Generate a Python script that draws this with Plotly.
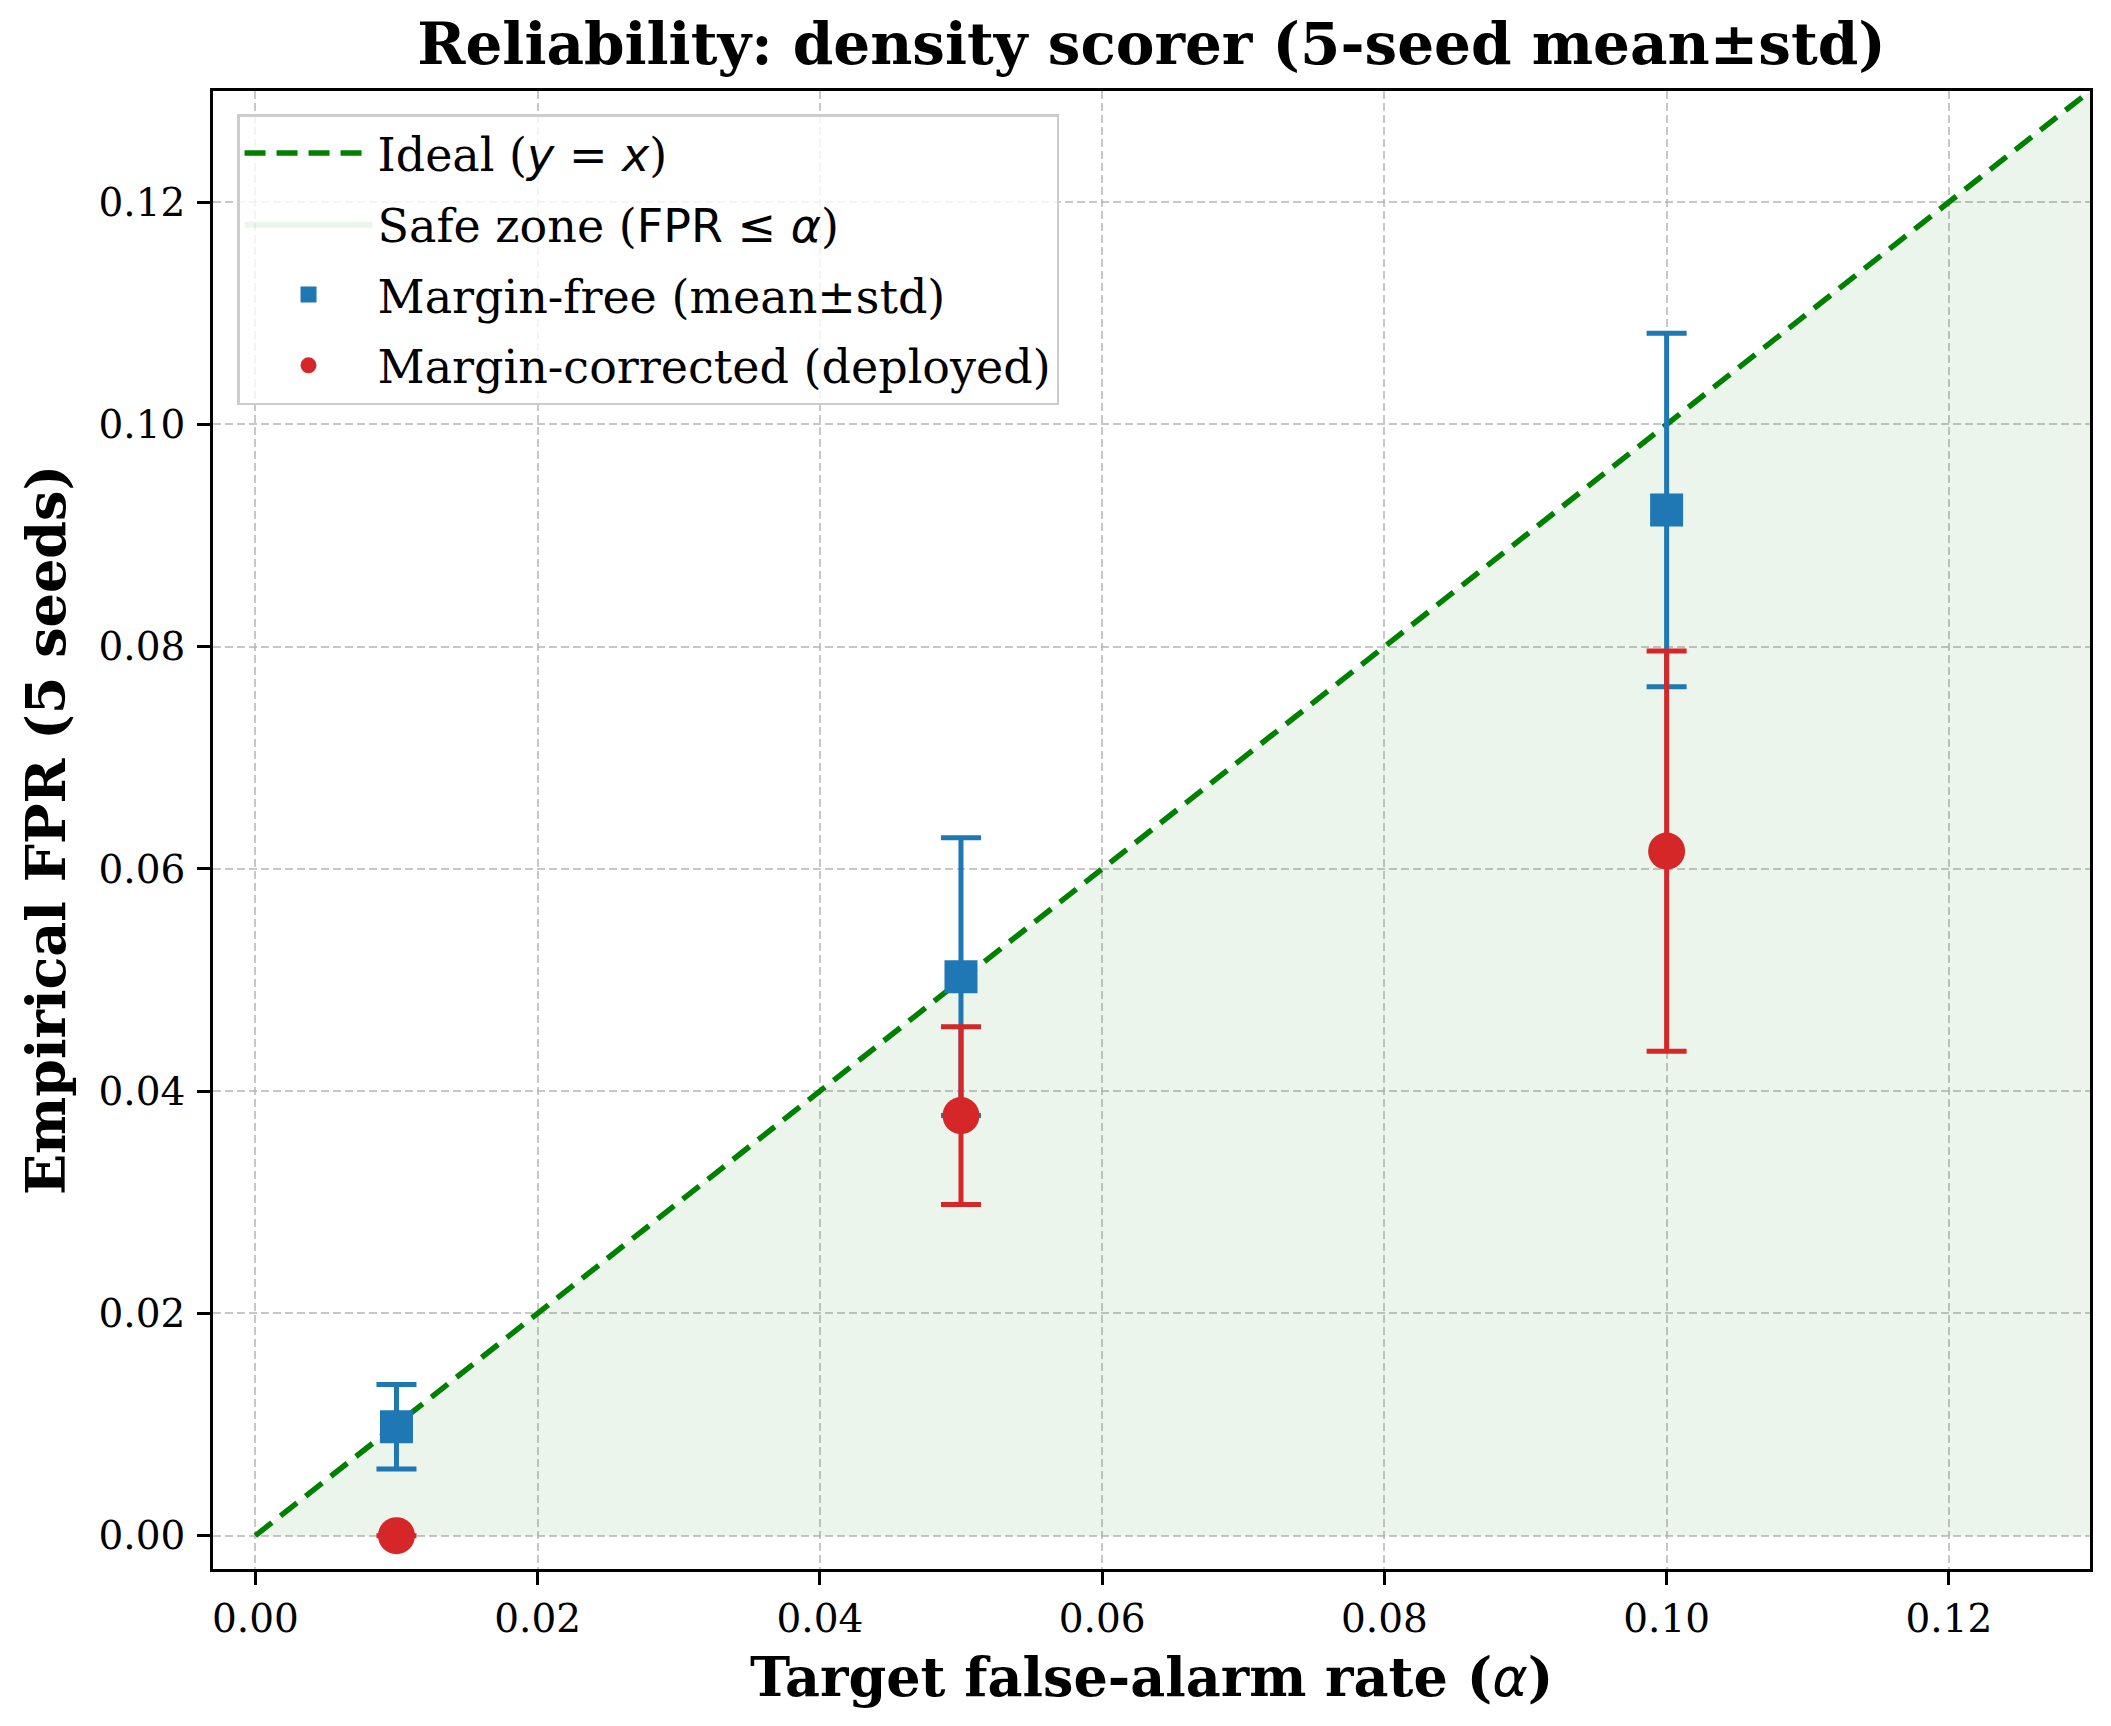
import plotly.graph_objects as go

# ---- data ----
alphas = [0.01, 0.05, 0.10]
free_mean = [0.0098, 0.0503, 0.0923]
free_std = [0.0038, 0.0125, 0.0159]
corr_mean = [0.0, 0.0378, 0.0616]
corr_std = [0.0, 0.0080, 0.0180]
ideal_x = [0.0, 0.13]
tick_vals = [0.00, 0.02, 0.04, 0.06, 0.08, 0.10, 0.12]
tick_text = ["0.00", "0.02", "0.04", "0.06", "0.08", "0.10", "0.12"]

SERIF = "DejaVu Serif"
MATH = "font-family:'DejaVu Sans';font-weight:normal"

BLUE = "#1f77b4"
RED = "#d62728"
GREEN = "#008000"

fig = go.Figure()

# safe zone: region under y = x, between the ideal line and y = 0
fig.add_trace(go.Scatter(
    x=ideal_x + [ideal_x[-1]], y=ideal_x + [ideal_x[0]], mode="lines", fill="toself",
    fillcolor="rgba(0,128,0,0.08)", line=dict(width=0, color="rgba(0,128,0,0)"),
    name=f"Safe zone (<span style=\"{MATH}\">FPR ≤ <i>α</i></span>)",
    legendrank=2, legendgroup="b",
))
fig.add_trace(go.Scatter(
    x=ideal_x, y=ideal_x, mode="lines",
    line=dict(color=GREEN, width=5.5, dash="21px,11px"),
    name=f"Ideal (<span style=\"{MATH}\"><i>y</i> = <i>x</i></span>)",
    legendrank=1, legendgroup="a",
))
fig.add_trace(go.Scatter(
    x=alphas, y=free_mean, mode="markers",
    marker=dict(symbol="square", size=33, color=BLUE),
    error_y=dict(type="data", array=free_std, visible=True, color=BLUE,
                 thickness=5, width=20),
    name="Margin-free (mean±std)", legendrank=3, legendgroup="c",
))
fig.add_trace(go.Scatter(
    x=alphas, y=corr_mean, mode="markers",
    marker=dict(symbol="circle", size=37, color=RED),
    error_y=dict(type="data", array=corr_std, visible=True, color=RED,
                 thickness=5, width=20),
    name="Margin-corrected (deployed)", legendrank=4, legendgroup="d",
))

axis_common = dict(
    tickvals=tick_vals, ticktext=tick_text,
    showline=True, mirror=True, linecolor="black", linewidth=2.7,
    ticks="outside", ticklen=13, tickwidth=2.5, tickcolor="black",
    showgrid=True, gridcolor="rgba(176,176,176,0.7)", gridwidth=1.5,
    griddash="8px,4px", zeroline=False,
    tickfont=dict(family=SERIF, size=39, color="black"),
)

fig.update_xaxes(range=[-0.003, 0.13], **axis_common)
fig.update_yaxes(range=[-0.003, 0.13], ticklabelstandoff=4, **axis_common)

fig.update_layout(
    width=2111, height=1726,
    margin=dict(l=213, r=21, t=91, b=157),
    plot_bgcolor="white", paper_bgcolor="white",
    title=dict(
        text="<b>Reliability: density scorer (5-seed mean±std)</b>",
        font=dict(family=SERIF, size=58, color="black"),
        x=0.5, xanchor="center", xref="paper",
        y=1 - 44 / 1726, yanchor="middle", yref="container",
    ),
    showlegend=True,
    legend=dict(
        x=0.0128, y=0.9844, xanchor="left", yanchor="top",
        bgcolor="rgba(255,255,255,0.8)", bordercolor="#cccccc", borderwidth=2.5,
        font=dict(family=SERIF, size=46, color="black"),
        itemwidth=128, traceorder="grouped", tracegroupgap=8,
    ),
    annotations=[
        dict(text=f"<b>Target false-alarm rate (<span style=\"{MATH}\"><i>α</i></span>)</b>",
             xref="paper", yref="paper", x=0.5, y=-108 / 1477,
             xanchor="center", yanchor="middle", showarrow=False,
             font=dict(family=SERIF, size=54, color="black")),
        dict(text="<b>Empirical FPR (5 seeds)</b>",
             xref="paper", yref="paper", x=(46 - 213) / 1878, y=0.5,
             xanchor="center", yanchor="middle", textangle=-90, showarrow=False,
             font=dict(family=SERIF, size=54, color="black")),
    ],
)

fig.write_html("out.html")
